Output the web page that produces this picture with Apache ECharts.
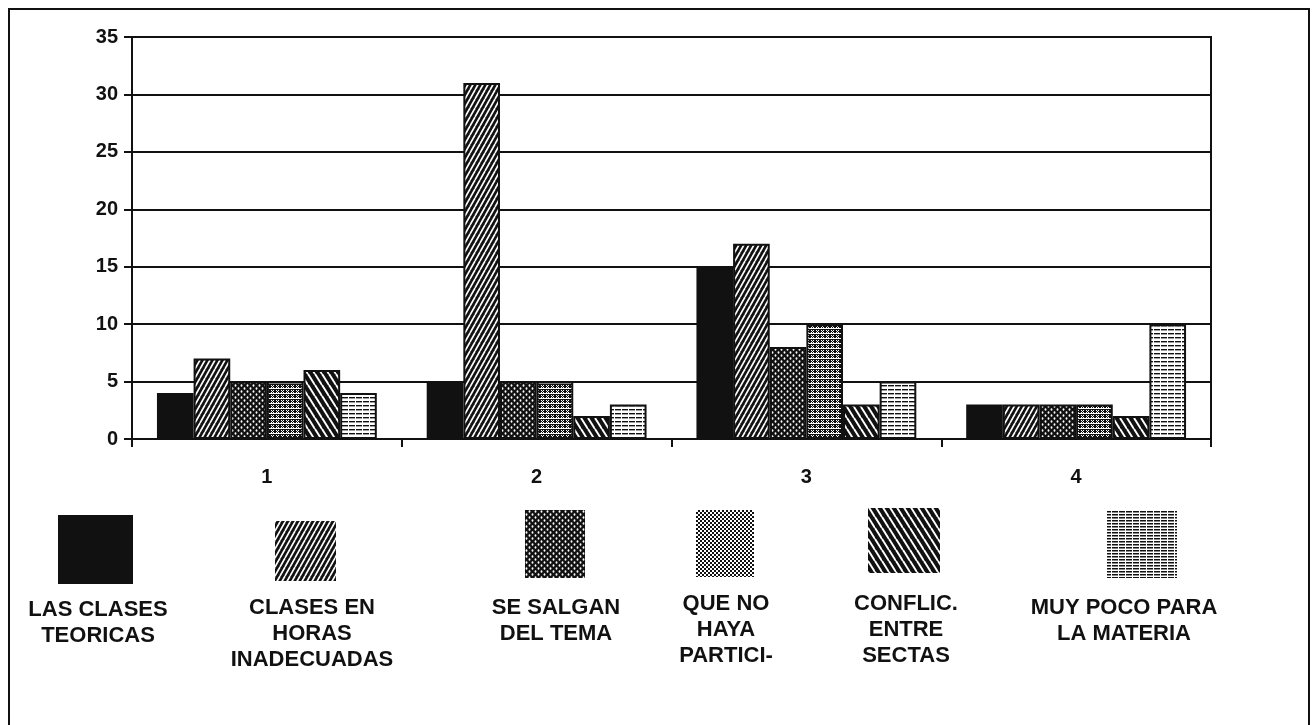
<!DOCTYPE html>
<html>
<head>
<meta charset="utf-8">
<script src="https://cdn.jsdelivr.net/npm/echarts@6/dist/echarts.min.js"></script>
<style>
html,body{margin:0;padding:0;background:#fff;}
#chart{width:1313px;height:725px;}
</style>
</head>
<body>
<div id="chart"></div>
<script>
// ---- data ----
const categories = ['1', '2', '3', '4'];
const seriesNames = [
  'LAS CLASES\nTEORICAS',
  'CLASES EN\nHORAS\nINADECUADAS',
  'SE SALGAN\nDEL TEMA',
  'QUE NO\nHAYA\nPARTICI-',
  'CONFLIC.\nENTRE\nSECTAS',
  'MUY POCO PARA\nLA MATERIA'
];
const clasesTeoricas   = [4, 5, 15, 3];
const horasInadecuadas = [7, 31, 17, 3];
const salganTema       = [5, 5, 8, 3];
const noParticipacion  = [5, 5, 10, 3];
const conflicSectas    = [6, 2, 3, 2];
const muyPocoMateria   = [4, 3, 5, 10];
const seriesValues = [clasesTeoricas, horasInadecuadas, salganTema, noParticipacion, conflicSectas, muyPocoMateria];
const yTicks = { min: 0, max: 35, interval: 5 };

// ---- patterns ----
function tile(w, h, draw) {
  const c = document.createElement('canvas');
  c.width = w; c.height = h;
  const g = c.getContext('2d');
  draw(g, w, h);
  return { image: c, repeat: 'repeat' };
}
function diag(g, w, h, dir, lw, color) {
  g.strokeStyle = color; g.lineWidth = lw;
  for (let k = -1; k <= 1; k++) {
    g.beginPath();
    if (dir > 0) { g.moveTo(k * w, h); g.lineTo(k * w + w, 0); }
    else { g.moveTo(k * w, 0); g.lineTo(k * w + w, h); }
    g.stroke();
  }
}
const patSolid = '#111111';
const patFwd = tile(5, 9, (g, w, h) => { g.fillStyle = '#111'; g.fillRect(0, 0, w, h); diag(g, w, h, 1, 1.6, '#fff'); });
const patDots = tile(6, 6, (g) => {
  g.fillStyle = '#111'; g.fillRect(0, 0, 6, 6);
  g.fillStyle = '#fff';
  g.beginPath(); g.ellipse(1.5, 1.5, 0.9, 1.3, 0, 0, Math.PI * 2); g.fill();
  g.beginPath(); g.ellipse(4.5, 4.5, 0.9, 1.3, 0, 0, Math.PI * 2); g.fill();
});
const patGrid = tile(5, 5, (g) => {
  g.fillStyle = '#111'; g.fillRect(0, 0, 5, 5);
  g.fillStyle = '#fff';
  g.fillRect(0, 3, 5, 1);
  g.fillRect(1, 0, 1, 1); g.fillRect(3, 0, 1, 1);
  g.fillRect(2, 1, 1, 1); g.fillRect(1, 2, 1, 1); g.fillRect(3, 2, 1, 1);
});
const patBack = tile(7, 11, (g, w, h) => { g.fillStyle = '#111'; g.fillRect(0, 0, w, h); diag(g, w, h, -1, 2, '#fff'); });
const patHoriz = tile(7, 4, (g) => {
  g.fillStyle = '#fff'; g.fillRect(0, 0, 7, 4);
  g.fillStyle = '#111'; g.fillRect(0, 1, 5, 1.4); g.fillRect(6, 1, 1, 1.4);
});
const patHorizDense = tile(7, 3, (g) => {
  g.fillStyle = '#fff'; g.fillRect(0, 0, 7, 3);
  g.fillStyle = '#111'; g.fillRect(0, 1, 5, 1.5); g.fillRect(6, 1, 1, 1.5);
});
const patChecker = tile(4, 4, (g) => {
  g.fillStyle = '#fff'; g.fillRect(0, 0, 4, 4);
  g.fillStyle = '#111'; g.fillRect(0, 0, 2, 2); g.fillRect(2, 2, 2, 2);
});
const barFills = [patSolid, patFwd, patDots, patGrid, patBack, patHoriz];
const legendFills = [patSolid, patFwd, patDots, patChecker, patBack, patHorizDense];

// ---- legend layout (positions only) ----
const legendBoxes = [
  { x: 58, y: 515, w: 75, h: 69, tx: 98, ty: 597 },
  { x: 275, y: 521, w: 61, h: 60, tx: 312, ty: 595 },
  { x: 525, y: 510, w: 60, h: 68, tx: 556, ty: 595 },
  { x: 696, y: 510, w: 58, h: 67, tx: 726, ty: 591 },
  { x: 868, y: 508, w: 72, h: 65, tx: 906, ty: 591 },
  { x: 1107, y: 510, w: 70, h: 68, tx: 1124, ty: 595 }
];
const FONT = '"Liberation Sans", Arial, sans-serif';

const graphics = [{
  type: 'rect', shape: { x: 9, y: 9, width: 1300, height: 730 },
  style: { fill: 'none', stroke: '#111', lineWidth: 2 }, silent: true
}];
legendBoxes.forEach((b, i) => {
  graphics.push({ type: 'rect', shape: { x: b.x, y: b.y, width: b.w, height: b.h }, style: { fill: legendFills[i] } });
  graphics.push({
    type: 'text', x: b.tx, y: b.ty,
    style: { text: seriesNames[i], fill: '#111', font: 'bold 22px ' + FONT, textAlign: 'center', textVerticalAlign: 'top', lineHeight: 26 }
  });
});

const chart = echarts.init(document.getElementById('chart'));
chart.setOption({
  animation: false,
  backgroundColor: '#fff',
  grid: { left: 132, right: 102, top: 37, bottom: 286, show: true, borderColor: '#111', borderWidth: 2 },
  xAxis: {
    type: 'category', data: categories,
    axisLine: { lineStyle: { color: '#111', width: 2 } },
    axisTick: { show: true, length: 8, lineStyle: { color: '#111', width: 2 } },
    axisLabel: { color: '#111', fontSize: 20, fontWeight: 'bold', fontFamily: FONT, margin: 28 }
  },
  yAxis: {
    type: 'value', min: yTicks.min, max: yTicks.max, interval: yTicks.interval,
    axisLine: { show: true, lineStyle: { color: '#111', width: 2 } },
    axisTick: { show: true, length: 8, lineStyle: { color: '#111', width: 2 } },
    splitLine: { lineStyle: { color: '#111', width: 2 } },
    axisLabel: { color: '#111', fontSize: 20, fontWeight: 'bold', fontFamily: FONT, margin: 14 }
  },
  series: seriesValues.map((vals, i) => ({
    name: seriesNames[i], type: 'bar', data: vals,
    barGap: '0%', barCategoryGap: '18.5%',
    itemStyle: { color: barFills[i], borderColor: '#111', borderWidth: 2 }
  })),
  graphic: graphics
});
</script>
</body>
</html>
